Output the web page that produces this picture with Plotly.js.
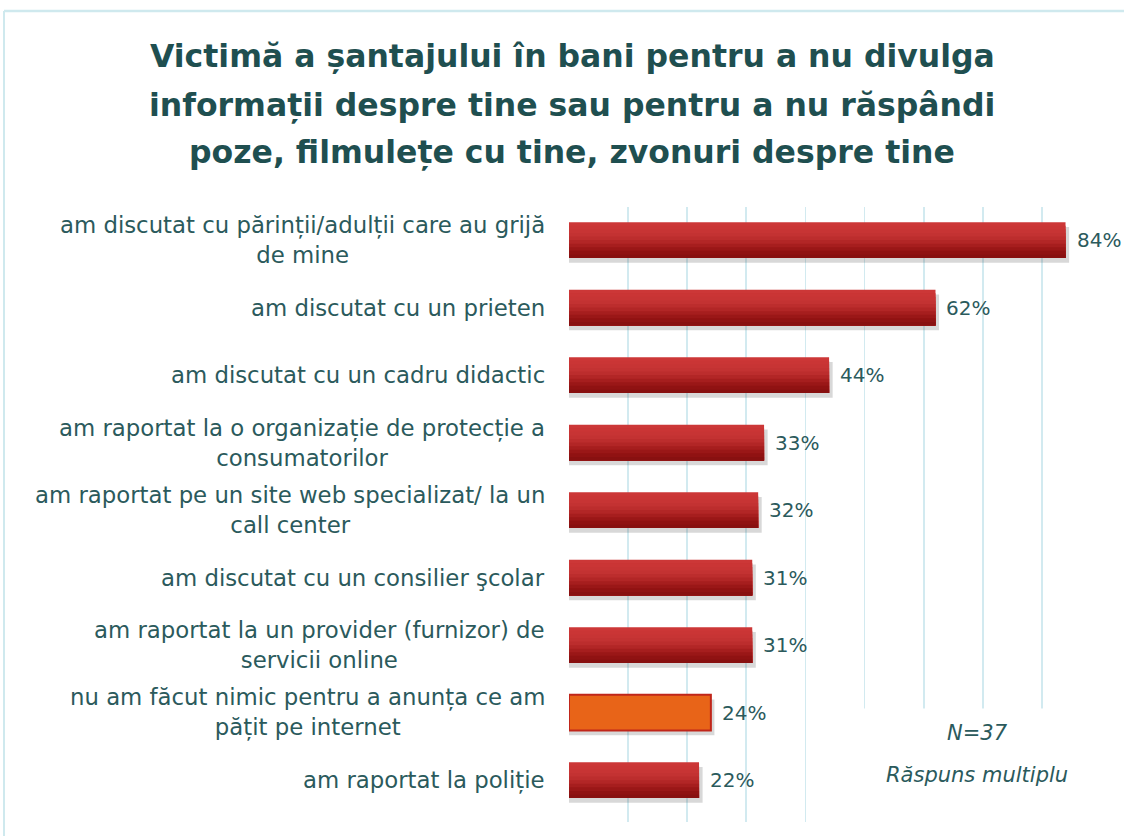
<!DOCTYPE html>
<html>
<head>
<meta charset="utf-8">
<script src="https://cdn.plot.ly/plotly-3.0.1.min.js"></script>
<style>html,body{margin:0;padding:0;background:#fff;}#chart{width:1124px;height:836px;}</style>
</head>
<body>
<div id="chart"></div>
<script>
const titleLines = [
  "Victimă a șantajului în bani pentru a nu divulga",
  "informații despre tine sau pentru a nu răspândi",
  "poze, filmulețe cu tine, zvonuri despre tine"
];
const categories = [
  "am discutat cu părinții/adulții care au grijă<br>de mine",
  "am discutat cu un prieten",
  "am discutat cu un cadru didactic",
  "am raportat la o organizație de protecție a<br>consumatorilor",
  "am raportat pe un site web specializat/ la un<br>call center",
  "am discutat cu un consilier şcolar",
  "am raportat la un provider (furnizor) de<br>servicii online",
  "nu am făcut nimic pentru a anunța ce am<br>pățit pe internet",
  "am raportat la poliție"
];
const values = [84, 62, 44, 33, 32, 31, 31, 24, 22];
const valueLabels = ["84%", "62%", "44%", "33%", "32%", "31%", "31%", "24%", "22%"];
const highlighted = [false, false, false, false, false, false, false, true, false];
const noteLines = ["N=37", "Răspuns multiplu"];

const W = 1124, H = 836;
const L = 569, R = 23, T = 207, B = 14;
const plotW = W - L - R, plotH = H - T - B;
const px2py = py => (H - B - py) / plotH;   // pixel y -> paper y
const px2px = px => (px - L) / plotW;       // pixel x -> paper x
const textColor = "#2b5a5c";
const font = "DejaVu Sans";
const barW = 0.53;
const pos = categories.map((_, i) => i);

// gradient bands (top light -> bottom dark)
const bandColors = ["#cc3737","#ca3535","#c73434","#c33232","#bc2d2d","#b22626","#a61e1e","#9a1717","#901212","#881010"];
const traces = [];
// shadow
traces.push({
  type: "bar", orientation: "h", y: pos, x: values.map(v => v + 0.6),
  width: barW, offset: -barW / 2 + 0.07,
  marker: {color: "rgba(60,60,60,0.2)"}, hoverinfo: "skip", showlegend: false
});
const n = bandColors.length;
bandColors.forEach((c, k) => {
  traces.push({
    type: "bar", orientation: "h", y: pos, x: values,
    width: barW - k * barW / n, offset: -barW / 2 + k * barW / n,
    marker: {color: highlighted.map(h => h ? "#e86418" : c), line: {width: 0}},
    hoverinfo: "skip", showlegend: false
  });
});
// outline for highlighted bar
traces.push({
  type: "bar", orientation: "h", y: pos, x: values,
  width: barW, offset: -barW / 2,
  marker: {color: "rgba(0,0,0,0)", line: {color: highlighted.map(h => h ? "#c0261a" : "rgba(0,0,0,0)"), width: highlighted.map(h => h ? 2 : 0)}},
  hoverinfo: "skip", showlegend: false
});

const annotations = [];
const titleY = [56, 105, 153];
titleLines.forEach((t, i) => {
  annotations.push({
    xref: "paper", yref: "paper", x: px2px(572), y: px2py(titleY[i]),
    xanchor: "center", yanchor: "middle", text: "<b>" + t + "</b>", showarrow: false,
    font: {family: font, size: 31.5, color: "#1f4f50"}
  });
});
categories.forEach((c, i) => {
  annotations.push({
    xref: "paper", yref: "y", x: px2px(547), y: i, xanchor: "right", yanchor: "middle",
    text: c, showarrow: false, align: "center",
    font: {family: font, size: 22.8, color: textColor}
  });
  annotations.push({
    xref: "x", yref: "y", x: values[i], y: i, xanchor: "left", yanchor: "middle",
    xshift: 9, text: valueLabels[i], showarrow: false,
    font: {family: font, size: 20, color: textColor}
  });
});
// note box (white background over grid)
annotations.push({
  xref: "paper", yref: "paper", x: px2px(982), y: px2py(766),
  xanchor: "center", yanchor: "middle", width: 238, height: 112,
  text: " ", showarrow: false, bgcolor: "#ffffff"
});
const noteY = [733, 775];
noteLines.forEach((t, i) => {
  annotations.push({
    xref: "paper", yref: "paper", x: px2px(977), y: px2py(noteY[i]),
    xanchor: "center", yanchor: "middle", text: "<i>" + t + "</i>", showarrow: false,
    font: {family: font, size: 21, color: textColor}
  });
});

const shapes = [
  {type: "line", xref: "paper", yref: "paper", x0: px2px(4), x1: px2px(W), y0: px2py(11), y1: px2py(11), line: {color: "#cfe9ee", width: 2.5}},
  {type: "line", xref: "paper", yref: "paper", x0: px2px(4), x1: px2px(4), y0: px2py(11), y1: px2py(H), line: {color: "#cfe9ee", width: 2}}
];

const layout = {
  width: W, height: H,
  margin: {l: L, r: R, t: T, b: B, pad: 0},
  paper_bgcolor: "#ffffff", plot_bgcolor: "#ffffff",
  barmode: "overlay", showlegend: false,
  xaxis: {range: [0, 90], dtick: 10, tick0: 0, showticklabels: false, ticks: "",
          showgrid: true, gridcolor: "#d2eaf0", gridwidth: 1.8, zeroline: false, showline: false, fixedrange: true},
  yaxis: {range: [8.62, -0.49], showticklabels: false, ticks: "", showgrid: false, zeroline: false, showline: false, fixedrange: true},
  annotations: annotations, shapes: shapes
};
Plotly.newPlot("chart", traces, layout, {displayModeBar: false, staticPlot: true});
</script>
</body>
</html>
